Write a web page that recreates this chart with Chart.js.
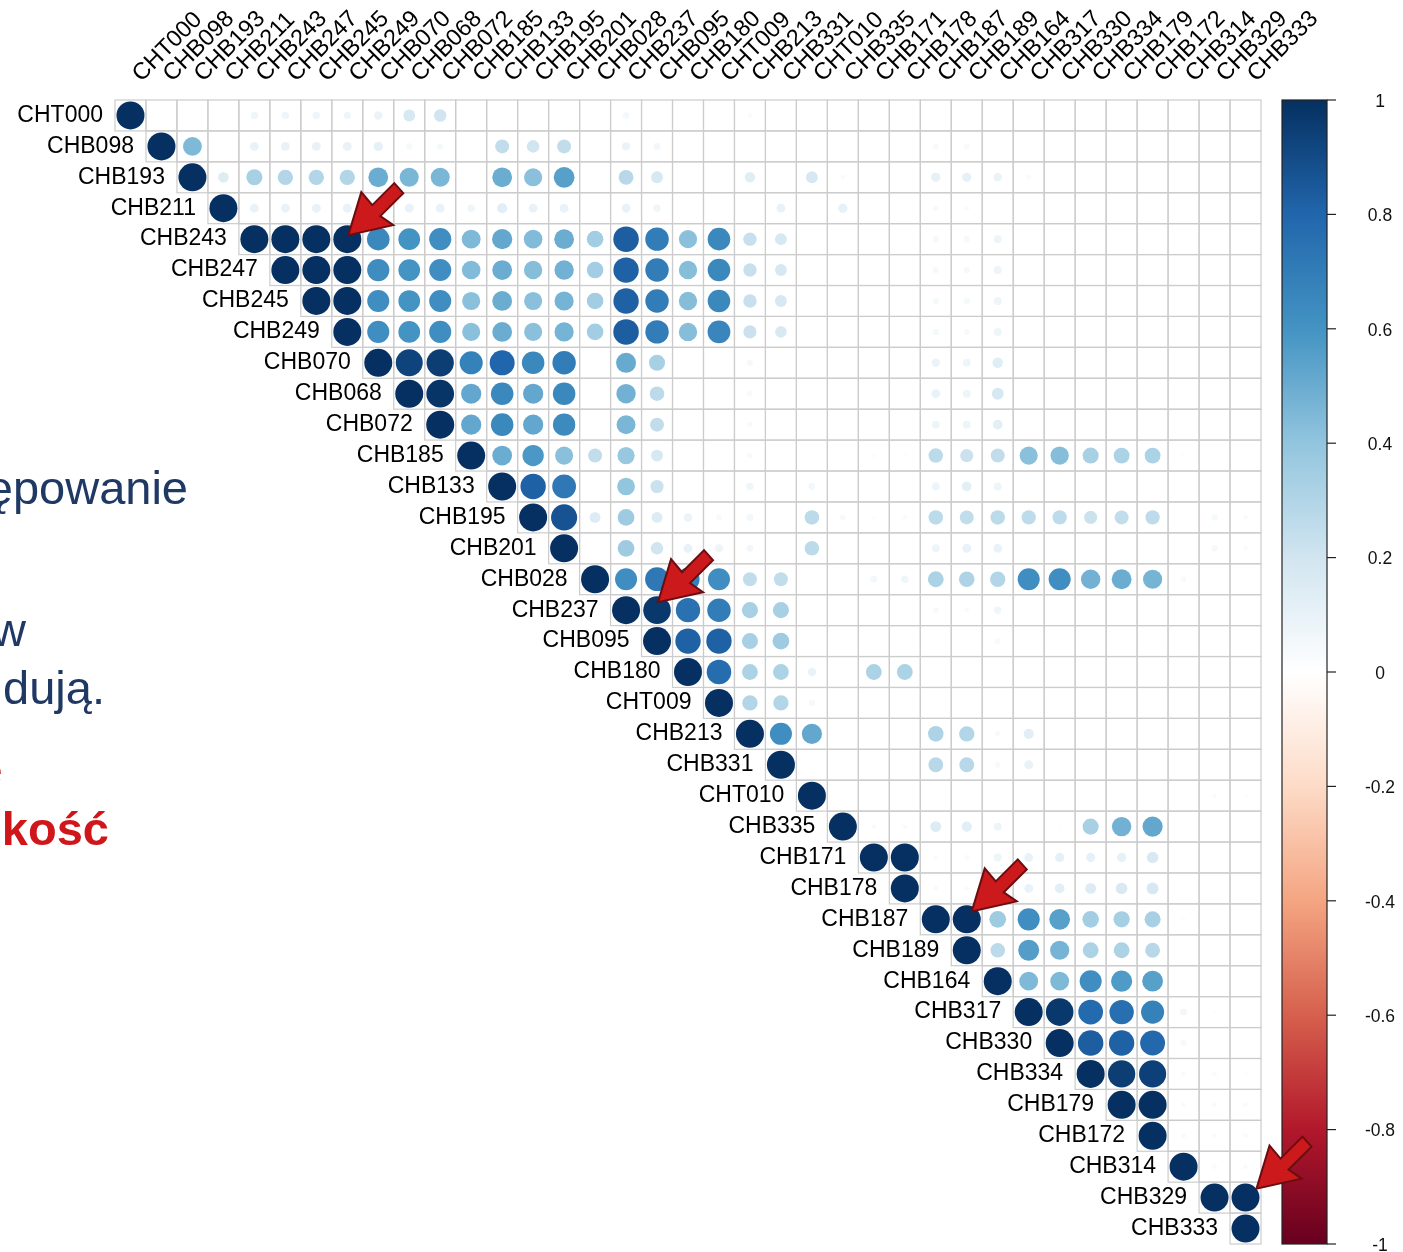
<!DOCTYPE html>
<html>
<head>
<meta charset="utf-8">
<title>Korelogram</title>
<script src="https://cdn.jsdelivr.net/npm/chart.js@4"></script>
<style>
  html, body { margin: 0; padding: 0; background: #fff; overflow: hidden; }
  canvas { display: block; }
</style>
</head>
<body>
<canvas id="mychart" width="1403" height="1252"></canvas>
<script>
const names = ['CHT000','CHB098','CHB193','CHB211','CHB243','CHB247','CHB245','CHB249','CHB070','CHB068',
  'CHB072','CHB185','CHB133','CHB195','CHB201','CHB028','CHB237','CHB095','CHB180','CHT009',
  'CHB213','CHB331','CHT010','CHB335','CHB171','CHB178','CHB187','CHB189','CHB164','CHB317',
  'CHB330','CHB334','CHB179','CHB172','CHB314','CHB329','CHB333'];

// upper triangle, each row starts on the diagonal, trailing zeros left out
const corrRows = [
  [1,0,0,0,.07,.07,.07,.07,.09,.18,.2,0,.006,.006,0,.006,.055,0,0,0,.03,.01,.01],
  [1,.45,0,.1,.1,.1,.1,.11,.05,.05,.01,.25,.2,.25,.006,.09,.06,0,0,.006,.006,0,0,0,0,.04,.04],
  [1,.145,.33,.3,.3,.3,.5,.46,.46,0,.5,.42,.55,.01,.28,.18,.003,.004,.14,.006,.18,.03,0,0,.11,.11,.09,.03,.01,.01,.01,.01],
  [1,.1,.1,.1,.1,.1,.1,.1,.07,.13,.1,.1,.004,.1,.07,.004,.004,.002,.1,0,.11,0,0,.04,.03,.002,.01],
  [1,1,1,1,.65,.6,.62,.45,.52,.44,.5,.35,.83,.7,.42,.65,.23,.18,0,0,0,0,.05,.05,.08],
  [1,1,1,.63,.6,.62,.44,.5,.43,.48,.35,.82,.7,.43,.65,.23,.18,0,0,0,0,.05,.05,.08],
  [1,1,.62,.6,.62,.42,.5,.42,.47,.35,.82,.7,.43,.65,.23,.18,0,0,0,0,.05,.05,.08],
  [1,.62,.6,.62,.42,.5,.42,.47,.35,.83,.7,.43,.66,.22,.17,0,0,0,0,.05,.04,.08],
  [1,.93,.95,.68,.8,.65,.7,.006,.51,.33,0,0,.05,0,0,.006,0,0,.09,.08,.14],
  [1,.98,.52,.65,.52,.65,.003,.48,.27,0,0,.04,0,0,0,0,0,.1,.08,.18],
  [1,.52,.65,.52,.64,.006,.46,.25,0,0,.04,0,0,0,0,0,.08,.08,.12],
  [1,.5,.58,.42,.25,.38,.18,.003,.003,.04,.006,.003,.003,.02,.02,.27,.22,.25,.42,.43,.33,.32,.32,.02,.006,.006],
  [1,.82,.72,.01,.4,.22,0,0,.07,0,.06,.006,.003,0,.08,.12,.08,.006,.006,.006,.006,.006],
  [1,.87,.15,.36,.15,.09,.04,.06,.003,.27,.04,.02,.03,.27,.25,.27,.26,.26,.22,.25,.26,.006,.05,.03],
  [1,.003,.36,.2,.1,.08,.06,0,.27,0,.003,0,.08,.1,.1,0,0,0,0,.003,0,.05,.03],
  [1,.62,.72,.68,.62,.25,.25,.006,.006,.06,.07,.32,.31,.3,.62,.62,.48,.5,.47,.04,.01,.01],
  [1,.97,.75,.7,.33,.33,.006,0,0,0,.04,.03,.07,.003,.003,.003,.003,.003],
  [1,.82,.82,.33,.36,0,0,0,0,.01,.01,.04],
  [1,.77,.32,.32,.09,.003,.32,.32,.006,0,.006,0,0,0,0,0,0,.006,.004],
  [1,.3,.3,.05],
  [1,.62,.52,0,0,0,.31,.3,.04,.13],
  [1,0,0,0,0,.28,.28,.04,.1],
  [1,.01,0,0,0,.003,0,0,0,0,0,0,0,.03,.02],
  [1,.03,.03,.15,.13,.08,0,.015,.33,.48,.52,0,.01,.01],
  [1,1,.03,.03,.08,.1,.11,.11,.11,.17,.005],
  [1,.03,.03,.08,.1,.12,.15,.17,.18],
  [1,1,.36,.62,.55,.35,.34,.33,.02,.005],
  [1,.27,.56,.47,.32,.32,.28,.01,.005],
  [1,.45,.45,.62,.57,.55,.007,.007,.005],
  [1,.97,.78,.76,.68,.06,.015,.01],
  [1,.83,.82,.79,.05,.01,.01],
  [1,.95,.94,.03,.03,.02],
  [1,1,.03,.03,.03],
  [1,.03,.03,.03],
  [1,.03,.03],
  [1,1],
  [1]
];

const barTicks = [1,.8,.6,.4,.2,0,-.2,-.4,-.6,-.8,-1];
const barColors = ['#67001F','#B2182B','#D6604D','#F4A582','#FDDBC7','#FFFFFF','#D1E5F0','#92C5DE','#4393C3','#2166AC','#053061'];
const arrowCells = [['CHB243','CHB249',1,-4],['CHB237','CHB095',1,-8],['CHB187','CHB189',5,-8],['CHB329','CHB333',11,-9]];
const slideLines = [
  ['ępowanie', 188, 504, '#1F3864', ''],
  ['w', 26, 646, '#1F3864', ''],
  ['dują.', 105, 704, '#1F3864', ''],
  ['e', 2.5, 786, '#D0161B', 'bold '],
  ['kość', 109, 845, '#D0161B', 'bold ']
];

function hex(c) { return [1, 3, 5].map(i => parseInt(c.substr(i, 2), 16)); }

function colorFor(v) {
  let p = (v + 1) / 2 * (barColors.length - 1);
  let i = Math.min(Math.floor(p), barColors.length - 2);
  let a = hex(barColors[i]), b = hex(barColors[i + 1]), t = p - i;
  return 'rgb(' + a.map((q, k) => Math.round(q + (b[k] - q) * t)).join(',') + ')';
}

let points = [];
corrRows.forEach((row, i) => {
  row.forEach((v, k) => {
    if (v !== 0) points.push({ x: names[i + k], y: names[i], r: 14 * Math.sqrt(Math.abs(v)), v: v });
  });
});

const FONT = '"Liberation Sans", Arial, sans-serif';

const cellsPlugin = {
  id: 'cells',
  beforeDatasetsDraw(chart) {
    const { ctx, scales: { x, y } } = chart;
    const w = x.getPixelForValue(1) - x.getPixelForValue(0);
    const h = y.getPixelForValue(1) - y.getPixelForValue(0);
    ctx.save();
    ctx.strokeStyle = '#CCCCCC';
    ctx.lineWidth = 1.2;
    names.forEach((n, i) => {
      for (let k = i; k < names.length; k++) {
        ctx.strokeRect(x.getPixelForValue(k) - w / 2, y.getPixelForValue(i) - h / 2, w, h);
      }
    });
    // row labels sit just left of the diagonal
    ctx.fillStyle = '#000';
    ctx.font = '23px ' + FONT;
    ctx.textAlign = 'right';
    ctx.textBaseline = 'middle';
    names.forEach((n, i) => {
      ctx.fillText(n, x.getPixelForValue(i) - w / 2 - 12, y.getPixelForValue(i));
    });
    ctx.restore();
  },
  afterDatasetsDraw(chart) {
    const { ctx, scales: { x, y, bar } } = chart;
    ctx.save();
    // colour bar
    const g = ctx.createLinearGradient(0, bar.top, 0, bar.bottom);
    barColors.forEach((c, i) => g.addColorStop(1 - i / (barColors.length - 1), c));
    ctx.fillStyle = g;
    ctx.fillRect(1282, bar.top, 45, bar.bottom - bar.top);
    ctx.strokeStyle = '#222';
    ctx.lineWidth = 1.2;
    ctx.strokeRect(1282, bar.top, 45, bar.bottom - bar.top);
    ctx.font = '17.5px ' + FONT;
    ctx.textAlign = 'center';
    ctx.textBaseline = 'middle';
    ctx.fillStyle = '#111';
    barTicks.forEach(t => {
      let py = bar.getPixelForValue(t);
      ctx.beginPath();
      ctx.moveTo(1327, py);
      ctx.lineTo(1336, py);
      ctx.stroke();
      ctx.fillText(String(t), 1380, py + 2);
    });
    // red arrows
    arrowCells.forEach(a => {
      let tx = x.getPixelForValue(names.indexOf(a[1])) + a[2];
      let ty = y.getPixelForValue(names.indexOf(a[0])) + a[3];
      let shape = [[13,-43],[24,-30],[46,-52],[55,-42],[32,-19],[45,-10]];
      ctx.beginPath();
      ctx.moveTo(tx, ty);
      shape.forEach(p => ctx.lineTo(tx + p[0], ty + p[1]));
      ctx.closePath();
      ctx.fillStyle = '#CC1A1C';
      ctx.fill();
      ctx.strokeStyle = '#6B0D10';
      ctx.lineWidth = 2;
      ctx.stroke();
    });
    // pieces of slide text showing at the left edge
    ctx.textAlign = 'right';
    ctx.textBaseline = 'alphabetic';
    slideLines.forEach(s => {
      ctx.font = s[4] + '47px ' + FONT;
      ctx.fillStyle = s[3];
      ctx.fillText(s[0], s[1], s[2]);
    });
    ctx.restore();
  }
};

let ctx = document.querySelector('#mychart').getContext('2d');
let myChart = new Chart(ctx, {
  type: 'bubble',
  data: {
    datasets: [{
      data: points,
      borderWidth: 0,
      hoverRadius: 0,
      backgroundColor: c => colorFor(c.raw.v)
    }]
  },
  options: {
    responsive: false,
    animation: false,
    events: [],
    clip: false,
    layout: { autoPadding: false, padding: { left: 115, right: 142, bottom: 8, top: 0 } },
    plugins: { legend: { display: false }, tooltip: { enabled: false } },
    scales: {
      x: {
        type: 'category',
        labels: names,
        offset: true,
        position: 'top',
        afterFit: s => { s.height = 100; },
        grid: { display: false, drawTicks: false },
        border: { display: false },
        ticks: {
          autoSkip: false, minRotation: 45, maxRotation: 45, padding: 12, labelOffset: 26,
          color: '#000', font: { family: FONT, size: 23.5 }
        }
      },
      y: {
        type: 'category',
        labels: names,
        offset: true,
        display: false
      },
      bar: {
        type: 'linear',
        position: 'right',
        min: -1,
        max: 1,
        display: false
      }
    }
  },
  plugins: [cellsPlugin]
});
</script>
</body>
</html>
